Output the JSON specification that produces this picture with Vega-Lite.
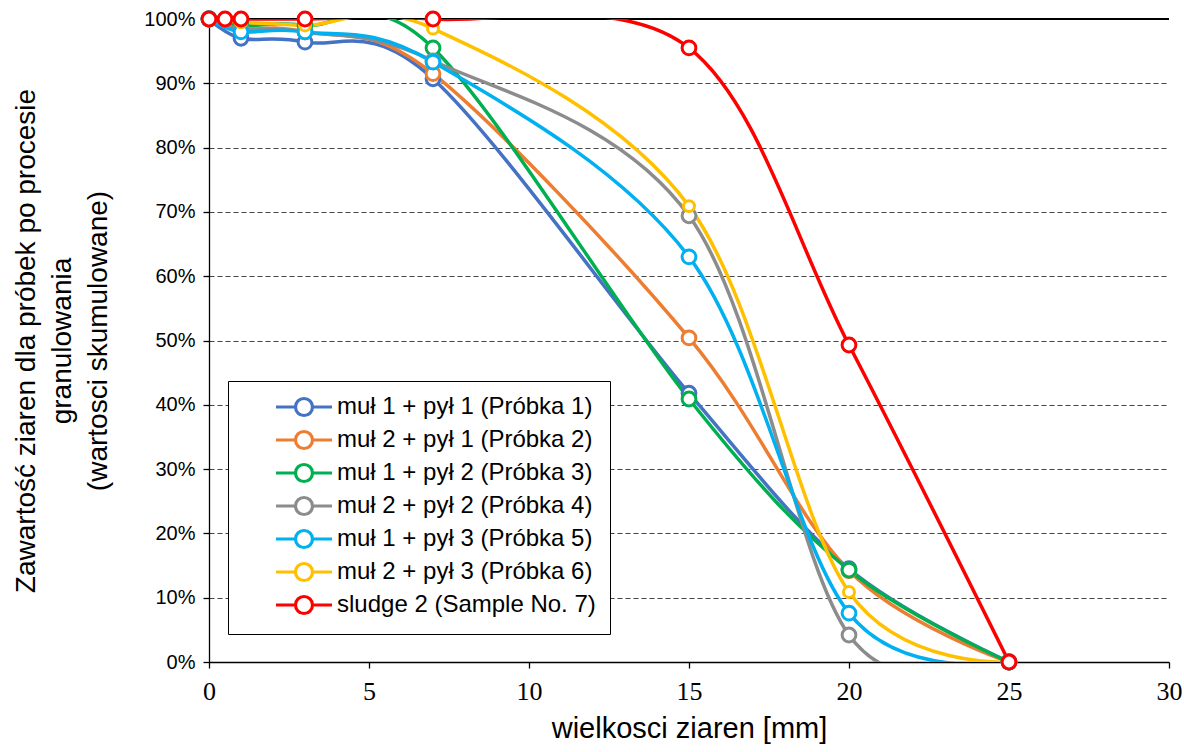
{
  "$schema": "https://vega.github.io/schema/vega-lite/v6.json",
  "width": 960,
  "height": 643,
  "autosize": {"type": "none"},
  "padding": {"left": 209, "top": 19, "right": 15, "bottom": 90},
  "background": "white",
  "config": {
    "font": "Liberation Sans",
    "view": {"stroke": null},
    "axis": {"titleFont": "Liberation Sans", "labelColor": "#000", "titleColor": "#000", "titleFontWeight": "normal", "domainColor": "#000", "tickColor": "#000", "domainWidth": 1.3, "tickWidth": 1.3},
    "axisX": {"labelFont": "Liberation Serif"},
    "axisY": {"labelFont": "Liberation Sans"}
  },
  "data": {
    "values": [
      {"x": 0, "v": 1.0, "s": "muł 1 + pył 1 (Próbka 1)"},
      {"x": 1, "v": 0.970, "s": "muł 1 + pył 1 (Próbka 1)"},
      {"x": 3, "v": 0.964, "s": "muł 1 + pył 1 (Próbka 1)"},
      {"x": 7, "v": 0.907, "s": "muł 1 + pył 1 (Próbka 1)"},
      {"x": 15, "v": 0.418, "s": "muł 1 + pył 1 (Próbka 1)"},
      {"x": 20, "v": 0.145, "s": "muł 1 + pył 1 (Próbka 1)"},
      {"x": 25, "v": 0.0, "s": "muł 1 + pył 1 (Próbka 1)"},
      {"x": 0, "v": 1.0, "s": "muł 2 + pył 1 (Próbka 2)"},
      {"x": 1, "v": 0.985, "s": "muł 2 + pył 1 (Próbka 2)"},
      {"x": 3, "v": 0.980, "s": "muł 2 + pył 1 (Próbka 2)"},
      {"x": 7, "v": 0.915, "s": "muł 2 + pył 1 (Próbka 2)"},
      {"x": 15, "v": 0.504, "s": "muł 2 + pył 1 (Próbka 2)"},
      {"x": 20, "v": 0.142, "s": "muł 2 + pył 1 (Próbka 2)"},
      {"x": 25, "v": 0.0, "s": "muł 2 + pył 1 (Próbka 2)"},
      {"x": 0, "v": 1.0, "s": "muł 1 + pył 2 (Próbka 3)"},
      {"x": 1, "v": 0.990, "s": "muł 1 + pył 2 (Próbka 3)"},
      {"x": 3, "v": 0.990, "s": "muł 1 + pył 2 (Próbka 3)"},
      {"x": 7, "v": 0.955, "s": "muł 1 + pył 2 (Próbka 3)"},
      {"x": 15, "v": 0.409, "s": "muł 1 + pył 2 (Próbka 3)"},
      {"x": 20, "v": 0.143, "s": "muł 1 + pył 2 (Próbka 3)"},
      {"x": 25, "v": 0.0, "s": "muł 1 + pył 2 (Próbka 3)"},
      {"x": 0, "v": 1.0, "s": "muł 2 + pył 2 (Próbka 4)"},
      {"x": 1, "v": 0.985, "s": "muł 2 + pył 2 (Próbka 4)"},
      {"x": 3, "v": 0.980, "s": "muł 2 + pył 2 (Próbka 4)"},
      {"x": 7, "v": 0.935, "s": "muł 2 + pył 2 (Próbka 4)"},
      {"x": 15, "v": 0.694, "s": "muł 2 + pył 2 (Próbka 4)"},
      {"x": 20, "v": 0.042, "s": "muł 2 + pył 2 (Próbka 4)"},
      {"x": 25, "v": 0.0, "s": "muł 2 + pył 2 (Próbka 4)"},
      {"x": 0, "v": 1.0, "s": "muł 1 + pył 3 (Próbka 5)"},
      {"x": 1, "v": 0.980, "s": "muł 1 + pył 3 (Próbka 5)"},
      {"x": 3, "v": 0.980, "s": "muł 1 + pył 3 (Próbka 5)"},
      {"x": 7, "v": 0.933, "s": "muł 1 + pył 3 (Próbka 5)"},
      {"x": 15, "v": 0.630, "s": "muł 1 + pył 3 (Próbka 5)"},
      {"x": 20, "v": 0.076, "s": "muł 1 + pył 3 (Próbka 5)"},
      {"x": 25, "v": 0.0, "s": "muł 1 + pył 3 (Próbka 5)"},
      {"x": 0, "v": 1.0, "s": "muł 2 + pył 3 (Próbka 6)"},
      {"x": 1, "v": 0.995, "s": "muł 2 + pył 3 (Próbka 6)"},
      {"x": 3, "v": 0.990, "s": "muł 2 + pył 3 (Próbka 6)"},
      {"x": 7, "v": 0.985, "s": "muł 2 + pył 3 (Próbka 6)"},
      {"x": 15, "v": 0.709, "s": "muł 2 + pył 3 (Próbka 6)"},
      {"x": 20, "v": 0.109, "s": "muł 2 + pył 3 (Próbka 6)"},
      {"x": 25, "v": 0.0, "s": "muł 2 + pył 3 (Próbka 6)"},
      {"x": 0, "v": 1.0, "s": "sludge 2 (Sample No. 7)"},
      {"x": 0.5, "v": 1.0, "s": "sludge 2 (Sample No. 7)"},
      {"x": 1, "v": 1.0, "s": "sludge 2 (Sample No. 7)"},
      {"x": 3, "v": 1.0, "s": "sludge 2 (Sample No. 7)"},
      {"x": 7, "v": 1.0, "s": "sludge 2 (Sample No. 7)"},
      {"x": 15, "v": 0.955, "s": "sludge 2 (Sample No. 7)"},
      {"x": 20, "v": 0.493, "s": "sludge 2 (Sample No. 7)"},
      {"x": 25, "v": 0.0, "s": "sludge 2 (Sample No. 7)"}
    ]
  },
  "encoding": {
    "x": {
      "field": "x", "type": "quantitative",
      "scale": {"domain": [0, 30], "nice": false, "zero": false},
      "axis": {"values": [0, 5, 10, 15, 20, 25, 30], "grid": false, "title": "wielkosci ziaren [mm]", "titleFontSize": 29, "titlePadding": 10, "labelFont": "Liberation Serif", "labelFontSize": 26, "labelPadding": 10, "tickSize": 6, "labelFlush": false}
    },
    "y": {
      "field": "v", "type": "quantitative",
      "scale": {"domain": [0, 1], "nice": false},
      "axis": {"values": [0, 0.1, 0.2, 0.3, 0.4, 0.5, 0.6, 0.7, 0.8, 0.9, 1.0], "format": ".0%", "grid": true, "gridDash": [5, 3], "gridColor": "#444", "gridWidth": 1.2, "title": ["Zawartość ziaren dla próbek po procesie", "granulowania", "(wartosci skumulowane)"], "titleFontSize": 28, "titleLineHeight": 36, "titlePadding": 31, "labelFontSize": 20, "labelPadding": 8, "tickSize": 6, "labelFlush": false}
    },
    "color": {
      "field": "s", "type": "nominal",
      "scale": {
        "domain": ["muł 1 + pył 1 (Próbka 1)", "muł 2 + pył 1 (Próbka 2)", "muł 1 + pył 2 (Próbka 3)", "muł 2 + pył 2 (Próbka 4)", "muł 1 + pył 3 (Próbka 5)", "muł 2 + pył 3 (Próbka 6)", "sludge 2 (Sample No. 7)"],
        "range": ["#4472C4", "#ED7D31", "#00B050", "#8C8C8C", "#00B0F0", "#FFC000", "#FF0000"]
      },
      "legend": {
        "title": null, "orient": "none", "legendX": 19, "legendY": 362,
        "strokeColor": "#000", "fillColor": "white", "padding": 14,
        "labelFontSize": 24, "labelFont": "Liberation Sans", "labelColor": "#000", "labelLimit": 500,
        "symbolType": "M-2.8,0L-0.85,0M0.85,0L2.8,0M0.85,0C0.85,0.469 0.469,0.85 0,0.85C-0.469,0.85 -0.85,0.469 -0.85,0C-0.85,-0.469 -0.469,-0.85 0,-0.85C0.469,-0.85 0.85,-0.469 0.85,0Z",
        "symbolSize": 400, "symbolStrokeWidth": 3.2, "symbolFillColor": "white",
        "symbolOffset": 50, "rowPadding": 3, "labelOffset": 21
      }
    }
  },
  "layer": [
    {
      "mark": {"type": "rule", "color": "#000", "strokeWidth": 1.3},
      "encoding": {"y": {"datum": 1}, "x": {"datum": 0}, "x2": {"datum": 30}, "color": {"value": "#000"}}
    },
    {
      "mark": {"type": "line", "interpolate": "cardinal", "strokeWidth": 3.5, "clip": true}
    },
    {
      "mark": {"type": "point", "shape": "circle", "filled": false, "fill": "white", "fillOpacity": 1, "strokeWidth": 3, "opacity": 1, "clip": false},
      "encoding": {
        "size": {"condition": {"test": "datum.s === 'muł 2 + pył 3 (Próbka 6)'", "value": 120}, "value": 190}
      }
    }
  ]
}
